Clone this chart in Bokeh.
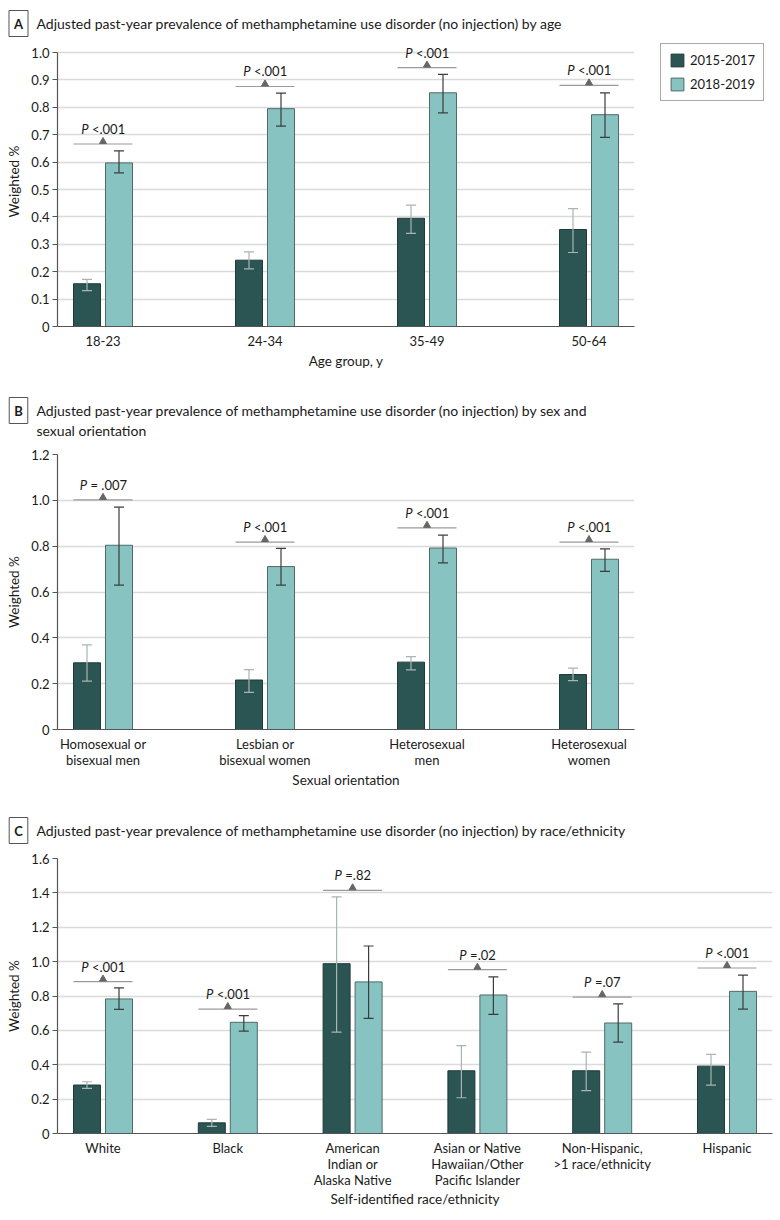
from bokeh.plotting import figure
from bokeh.layouts import column
from bokeh.models import (ColumnDataSource, FixedTicker, Legend, LegendItem,
                          Whisker, TeeHead, Range1d, Label)
from bokeh.core.properties import value
from bokeh.embed import file_html
from bokeh.resources import INLINE

FONT = "Lato"
DARK = "#2B5553"
LIGHT = "#86C3C1"
TXT = "#1a1a1a"

# ---------------- data ----------------
series_names = ["2015-2017", "2018-2019"]

age_groups = ["18-23", "24-34", "35-49", "50-64"]
age_2015 = [0.156, 0.242, 0.395, 0.354]
age_2015_lo = [0.131, 0.210, 0.340, 0.270]
age_2015_hi = [0.172, 0.272, 0.443, 0.430]
age_2018 = [0.597, 0.795, 0.853, 0.773]
age_2018_lo = [0.561, 0.731, 0.780, 0.690]
age_2018_hi = [0.641, 0.852, 0.920, 0.853]
age_pbar = [0.666, 0.876, 0.945, 0.880]
age_p = ["<.001", "<.001", "<.001", "<.001"]
age_yticks = [0, 0.1, 0.2, 0.3, 0.4, 0.5, 0.6, 0.7, 0.8, 0.9, 1.0]
age_ylabels = ["0", "0.1", "0.2", "0.3", "0.4", "0.5", "0.6", "0.7", "0.8", "0.9", "1.0"]

sex_groups = ["Homosexual or\nbisexual men", "Lesbian or\nbisexual women",
              "Heterosexual\nmen", "Heterosexual\nwomen"]
sex_2015 = [0.291, 0.216, 0.294, 0.240]
sex_2015_lo = [0.211, 0.162, 0.260, 0.213]
sex_2015_hi = [0.369, 0.261, 0.318, 0.268]
sex_2018 = [0.804, 0.711, 0.792, 0.743]
sex_2018_lo = [0.630, 0.630, 0.727, 0.690]
sex_2018_hi = [0.970, 0.790, 0.848, 0.788]
sex_pbar = [1.002, 0.818, 0.880, 0.818]
sex_p = ["= .007", "<.001", "<.001", "<.001"]
sex_yticks = [0, 0.2, 0.4, 0.6, 0.8, 1.0, 1.2]
sex_ylabels = ["0", "0.2", "0.4", "0.6", "0.8", "1.0", "1.2"]

race_groups = ["White", "Black", "American\nIndian or\nAlaska Native",
               "Asian or Native\nHawaiian/Other\nPacific Islander",
               "Non-Hispanic,\n>1 race/ethnicity", "Hispanic"]
race_2015 = [0.282, 0.062, 0.988, 0.365, 0.365, 0.392]
race_2015_lo = [0.262, 0.041, 0.590, 0.208, 0.249, 0.282]
race_2015_hi = [0.301, 0.082, 1.377, 0.511, 0.474, 0.460]
race_2018 = [0.783, 0.647, 0.882, 0.806, 0.643, 0.827]
race_2018_lo = [0.722, 0.596, 0.670, 0.693, 0.532, 0.724]
race_2018_hi = [0.847, 0.686, 1.091, 0.911, 0.754, 0.922]
race_pbar = [0.884, 0.724, 1.415, 0.953, 0.794, 0.963]
race_p = ["<.001", "<.001", "=.82", "=.02", "=.07", "<.001"]
race_yticks = [0, 0.2, 0.4, 0.6, 0.8, 1.0, 1.2, 1.4, 1.6]
race_ylabels = ["0", "0.2", "0.4", "0.6", "0.8", "1.0", "1.2", "1.4", "1.6"]

title_A = ["Adjusted past-year prevalence of methamphetamine use disorder (no injection) by age"]
title_B = ["Adjusted past-year prevalence of methamphetamine use disorder (no injection) by sex and",
           "sexual orientation"]
title_C = ["Adjusted past-year prevalence of methamphetamine use disorder (no injection) by race/ethnicity"]

# rough text width estimate (px, 13px Lato) used only to centre the P labels
CW = {" ": 3.0, ".": 3.4, "<": 7.5, "=": 7.5}


def text_w(s):
    return sum(CW.get(c, 7.5) for c in s)


def make_panel(letter, title_lines, title_gap, letter_side, groups, xlabel, e, e_lo, e_hi,
               l, l_lo, l_hi, pbar, ptxt, yticks, ylabels, frame_w, plot_h, extra_top_px,
               b_top, b_bottom, b_right, spacing_px, pad_px, tick_standoff,
               label_standoff, legend=False):
    n = len(groups)
    ymax = yticks[-1]
    pad = pad_px / spacing_px
    bw = 27.0 / spacing_px
    off = 16.0 / spacing_px
    ppu = plot_h / ymax
    yend = ymax + extra_top_px / ppu
    frame_h = plot_h + extra_top_px

    p = figure(frame_width=frame_w, frame_height=frame_h, min_border_left=57,
               min_border_right=b_right, min_border_top=b_top, min_border_bottom=b_bottom,
               x_range=Range1d(-pad, n - 1 + pad), y_range=Range1d(0, yend),
               output_backend="svg", toolbar_location=None, tools="")
    p.outline_line_color = None
    p.background_fill_color = "white"
    p.border_fill_color = "white"
    p.xgrid.grid_line_color = None
    p.ygrid.grid_line_color = "#dadada"
    p.ygrid.grid_line_width = 1.5
    p.ygrid.ticker = FixedTicker(ticks=yticks)

    xs = list(range(n))
    xe = [x - off for x in xs]
    xl = [x + off for x in xs]
    src_e = ColumnDataSource(dict(x=xe, top=e, lo=e_lo, hi=e_hi))
    src_l = ColumnDataSource(dict(x=xl, top=l, lo=l_lo, hi=l_hi))

    r1 = p.vbar(x="x", top="top", bottom=0, width=bw, source=src_e,
                fill_color=DARK, line_color="#1f3a39", line_width=1)
    r2 = p.vbar(x="x", top="top", bottom=0, width=bw, source=src_l,
                fill_color=LIGHT, line_color="#4f6a69", line_width=1)

    w1 = Whisker(source=src_e, base="x", lower="lo", upper="hi", line_color="#a9b4b3",
                 line_width=1.2, level="overlay",
                 upper_head=TeeHead(size=10, line_color="#a9b4b3", line_width=1.2),
                 lower_head=TeeHead(size=10, line_color="#a9b4b3", line_width=1.2))
    w2 = Whisker(source=src_l, base="x", lower="lo", upper="hi", line_color="#3c3c3c",
                 line_width=1.2, level="overlay",
                 upper_head=TeeHead(size=10, line_color="#3c3c3c", line_width=1.2),
                 lower_head=TeeHead(size=10, line_color="#3c3c3c", line_width=1.2))
    p.add_layout(w1)
    p.add_layout(w2)

    # significance brackets
    x0 = [x - off - bw / 2 for x in xs]
    x1 = [x + off + bw / 2 for x in xs]
    p.segment(x0=x0, x1=x1, y0=pbar, y1=pbar, line_color="#9a9a9a", line_width=1.2)
    p.scatter(x=xs, y=[v + 2.5 / ppu for v in pbar], marker="triangle", size=7,
              fill_color="#666666", line_color="#666666")
    wP = 7.8
    gap = 3.5
    tot = [wP + gap + text_w(r) for r in ptxt]
    offs_p = [-t / 2 + wP for t in tot]
    offs_r = [o + gap for o in offs_p]
    tsrc = ColumnDataSource(dict(x=xs, y=pbar, rest=ptxt, op=offs_p, orr=offs_r,
                                 P=["P"] * n))
    p.text(x="x", y="y", text="P", x_offset="op", y_offset=-15, source=tsrc,
           text_font=value(FONT), text_font_style="italic", text_font_size="13px",
           text_align="right", text_baseline="middle", text_color=TXT)
    p.text(x="x", y="y", text="rest", x_offset="orr", y_offset=-15, source=tsrc,
           text_font=value(FONT), text_font_size="13px",
           text_align="left", text_baseline="middle", text_color=TXT)

    # axes
    p.xaxis.ticker = FixedTicker(ticks=xs)
    p.xaxis.major_label_overrides = {i: g for i, g in enumerate(groups)}
    p.yaxis.ticker = FixedTicker(ticks=yticks)
    p.yaxis.major_label_overrides = {t: s for t, s in zip(yticks, ylabels)}
    p.yaxis.bounds = (0, ymax)
    p.xaxis.minor_tick_line_color = None
    p.yaxis.minor_tick_line_color = None
    p.yaxis.major_tick_out = 5
    p.yaxis.major_tick_in = 0
    p.axis.axis_line_color = "#555555"
    p.axis.axis_line_width = 1.2
    p.axis.major_tick_line_color = "#555555"
    p.xaxis.major_tick_line_color = None
    p.axis.major_label_text_font = FONT
    p.axis.major_label_text_font_size = "13px"
    p.axis.major_label_text_color = TXT
    p.xaxis.major_label_text_line_height = 1.0
    p.yaxis.major_label_standoff = 3
    p.xaxis.major_label_standoff = tick_standoff
    p.axis.axis_label_text_font = FONT
    p.axis.axis_label_text_font_size = "13.5px"
    p.axis.axis_label_text_font_style = "normal"
    p.axis.axis_label_text_color = TXT
    p.xaxis.axis_label = xlabel
    p.yaxis.axis_label = "Weighted %"
    p.yaxis.axis_label_standoff = 6
    p.xaxis.axis_label_standoff = label_standoff

    if legend:
        lg = Legend(items=[LegendItem(label=series_names[0], renderers=[r1]),
                           LegendItem(label=series_names[1], renderers=[r2])],
                    location=(26, 225), orientation="vertical",
                    label_text_font=FONT, label_text_font_size="13px",
                    label_text_color=TXT, glyph_width=16, glyph_height=16,
                    spacing=8, padding=8, margin=0, label_standoff=5,
                    border_line_color="#555555", border_line_width=1,
                    background_fill_color="white", background_fill_alpha=1)
        p.add_layout(lg, "right")

    # panel title: positioned from the frame's own scales (pixel offsets above the frame)
    ppx = spacing_px
    x_title = -pad - 21.0 / ppx
    x_letter = -pad - 39.0 / ppx
    for k, line in enumerate(title_lines):
        y_t = yend + (title_gap - 20 * k) / ppu
        p.add_layout(Label(x=x_title, y=y_t, x_units="data", y_units="data", text=line,
                           text_font=FONT, text_font_size="14px", text_color=TXT,
                           text_align="left", text_baseline="middle"), "above")
    y_l = yend + title_gap / ppu
    p.add_layout(Label(x=x_letter, y=y_l, x_units="data", y_units="data", text=letter,
                       text_font=FONT, text_font_size="13px", text_font_style="bold",
                       text_color=TXT, text_align="center", text_baseline="middle",
                       text_line_height=0.85,
                       border_line_color="#555555", border_line_width=1,
                       background_fill_color="white", padding=5), letter_side)
    return p


# A: frame top at 36 (16 px headroom above 1.0), title centre 13 px above frame top
pA = make_panel("A", title_A, 13, "right", age_groups, "Age group, y", age_2015, age_2015_lo,
                age_2015_hi, age_2018, age_2018_lo, age_2018_hi, age_pbar, age_p, age_yticks,
                age_ylabels, 577, 274, 16, 36, 64, 146, 162.0, 45.5, 3, 4, legend=True)
# B: frame top at 454, title lines at 410 / 430
pB = make_panel("B", title_B, 44, "right", sex_groups, "Sexual orientation", sex_2015, sex_2015_lo,
                sex_2015_hi, sex_2018, sex_2018_lo, sex_2018_hi, sex_pbar, sex_p, sex_yticks,
                sex_ylabels, 577, 275, 0, 64, 76, 146, 162.0, 45.5, 0, 1)
# C: frame top at 858, title at 830
pC = make_panel("C", title_C, 28, "above", race_groups, "Self-identified race/ethnicity", race_2015,
                race_2015_lo, race_2015_hi, race_2018, race_2018_lo, race_2018_hi, race_pbar,
                race_p, race_yticks, race_ylabels, 715, 275, 0, 53, 78, 8, 124.8, 45.5, 0, 0)

layout = column(pA, pB, pC, spacing=0)
open("out.html", "w").write(file_html(layout, INLINE))
